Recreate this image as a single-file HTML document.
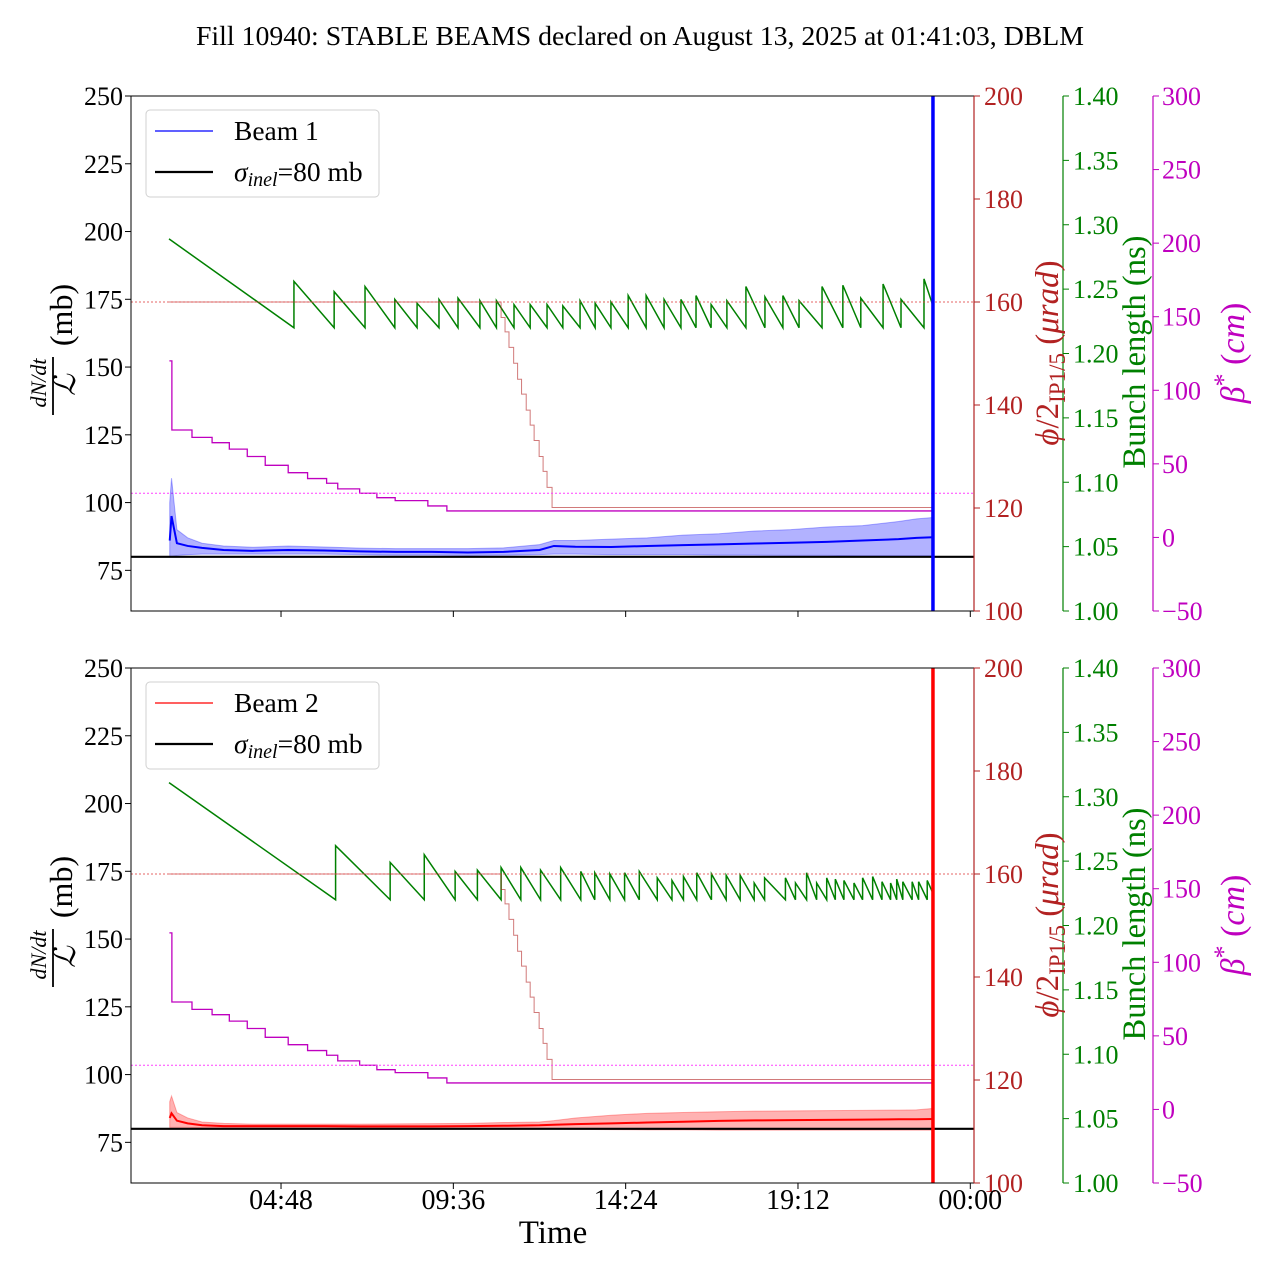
<!DOCTYPE html>
<html><head><meta charset="utf-8"><style>
html,body{margin:0;padding:0;background:#fff;}
svg{display:block;font-family:"Liberation Serif",serif;}
</style></head><body>
<svg id="chart" width="1280" height="1280" viewBox="0 0 1280 1280" xmlns="http://www.w3.org/2000/svg">
<text x="640" y="45" font-size="27.8" text-anchor="middle">Fill 10940: STABLE BEAMS declared on August 13, 2025 at 01:41:03, DBLM</text>
</svg>
<script>
// ---- data (time in hours) ----
const xTickHours = [4.8, 9.6, 14.4, 19.2, 24];
const xTickLabels = ["04:48", "09:36", "14:24", "19:12", "00:00"];
const leftTicks = [75, 100, 125, 150, 175, 200, 225, 250];
const redTicks = [100, 120, 140, 160, 180, 200];
const greenTicks = [1.00, 1.05, 1.10, 1.15, 1.20, 1.25, 1.30, 1.35, 1.40];
const magTicks = [-50, 0, 50, 100, 150, 200, 250, 300];

const crossTimes = [1.68, 10.93, 11.04, 11.15, 11.28, 11.39, 11.50, 11.63, 11.74, 11.85, 11.99, 12.10, 12.21, 12.35];
const crossVals  = [160, 157, 154.2, 151.2, 148.1, 145, 142.1, 139, 136.1, 133.1, 130, 127.1, 124, 120.1];
const betaTimes = [1.69, 1.76, 2.32, 2.88, 3.36, 3.86, 4.36, 5.00, 5.54, 6.07, 6.38, 6.99, 7.47, 7.98, 8.89, 9.42];
const betaVals  = [120, 73, 68, 64.4, 60, 55, 49, 44, 40, 36.8, 33, 30, 27, 25, 21.4, 18];
const endTime = 22.96;

// beam 1 bunch length sawtooth
const bl1Start = [1.68, 1.289];
const bl1ResetTimes = [5.16, 6.28, 7.14, 7.97, 8.59, 9.20, 9.73, 10.34, 10.80, 11.29, 11.74, 12.21, 12.65, 13.13, 13.55, 13.99, 14.47, 14.97, 15.47, 15.94, 16.36, 16.78, 17.22, 17.75, 18.28, 18.78, 19.23, 19.87, 20.45, 20.95, 21.57, 22.07, 22.71];
const bl1Peaks = [1.256, 1.248, 1.252, 1.242, 1.239, 1.242, 1.243, 1.241, 1.241, 1.238, 1.238, 1.238, 1.237, 1.241, 1.239, 1.240, 1.245, 1.245, 1.242, 1.242, 1.245, 1.238, 1.241, 1.252, 1.244, 1.245, 1.241, 1.252, 1.253, 1.243, 1.254, 1.242, 1.258];
const bl1Trough = 1.220;
const bl1End = 1.237;
// beam 2 bunch length sawtooth
const bl2Start = [1.68, 1.311];
const bl2ResetTimes = [6.32, 7.84, 8.79, 9.65, 10.27, 10.93, 11.48, 12.03, 12.59, 13.15, 13.54, 13.96, 14.37, 14.78, 15.28, 15.69, 16.01, 16.38, 16.79, 17.20, 17.59, 17.98, 18.27, 18.85, 19.13, 19.44, 19.72, 20.00, 20.24, 20.48, 20.76, 21.00, 21.28, 21.54, 21.78, 21.95, 22.12, 22.38, 22.56, 22.80];
const bl2Peaks = [1.262, 1.249, 1.255, 1.242, 1.243, 1.245, 1.245, 1.243, 1.245, 1.242, 1.241, 1.240, 1.241, 1.242, 1.237, 1.235, 1.238, 1.241, 1.240, 1.239, 1.239, 1.233, 1.237, 1.237, 1.233, 1.241, 1.233, 1.237, 1.236, 1.235, 1.233, 1.237, 1.238, 1.234, 1.233, 1.236, 1.234, 1.234, 1.234, 1.235];
const bl2Trough = 1.220;
const bl2End = 1.225;

// luminosity cross-section
const lumTimes = [1.7, 1.75, 1.9, 2.2, 2.6, 3.2, 4.0, 5.0, 6.0, 7.0, 8.0, 9.0, 10.0, 11.0, 12.0, 12.4, 13, 14, 15, 16, 17, 18, 19, 20, 21, 22, 22.5, 22.96];
const b1Mean  = [86, 95, 85, 84, 83.3, 82.5, 82.2, 82.5, 82.3, 82, 81.8, 81.8, 81.6, 81.8, 82.5, 84, 83.7, 83.6, 84, 84.3, 84.6, 84.9, 85.2, 85.5, 86, 86.5, 87, 87.2];
const b1Upper = [100, 109, 90, 87, 85, 84, 83.5, 84, 83.6, 83.2, 83, 83, 83, 83.3, 84.5, 86, 86, 86.5, 87, 88, 88.5, 89.5, 90, 91, 91.5, 93, 94, 94.5];
const b1Lower = [80, 80, 80.5, 80.8, 81, 81, 81, 81, 81, 80.8, 80.6, 80.6, 80.5, 80.6, 80.8, 81, 81, 80.8, 80.8, 80.8, 80.6, 80.6, 80.5, 80.5, 80.4, 80.4, 80.4, 80.4];
const b2Mean  = [84, 85.7, 83, 82, 81.3, 81, 81, 81, 81, 80.9, 80.9, 80.9, 81, 81.1, 81.3, 81.5, 81.7, 82, 82.3, 82.6, 82.9, 83.1, 83.2, 83.3, 83.4, 83.5, 83.5, 83.6];
const b2Upper = [90, 92.1, 86, 84, 82.5, 82, 81.7, 81.7, 81.7, 81.7, 81.8, 81.9, 82, 82.3, 82.5, 83, 84, 85, 85.7, 86, 86.3, 86.5, 86.6, 86.7, 86.8, 86.9, 87, 87.5];
const b2Lower = [80.5, 80.5, 80.5, 80.5, 80.4, 80.4, 80.3, 80.3, 80.2, 80.2, 80.1, 80.1, 80, 80, 79.9, 79.9, 79.8, 79.7, 79.6, 79.6, 79.5, 79.5, 79.5, 79.5, 79.5, 79.5, 79.5, 79.5];
const sigmaInel = 80;
const crossRef = 160;
const betaRef = 30;

// ---- drawing ----
const NS = "http://www.w3.org/2000/svg";
const svg = document.getElementById("chart");
const X0 = 131, X1 = 974, H = 515;
const TF = 26;
function xs(t){ return 108.7 + t * 35.9; }
function mk(tag, attrs, parent){
  const e = document.createElementNS(NS, tag);
  for (const k in attrs) e.setAttribute(k, attrs[k]);
  (parent || svg).appendChild(e);
  return e;
}
function stepPath(times, vals, tEnd, ys){
  let d = "M" + xs(times[0]) + "," + ys(vals[0]);
  for (let i = 1; i < times.length; i++){
    d += "L" + xs(times[i]) + "," + ys(vals[i-1]) + "L" + xs(times[i]) + "," + ys(vals[i]);
  }
  d += "L" + xs(tEnd) + "," + ys(vals[vals.length-1]);
  return d;
}
function sawPath(start, resets, peaks, trough, endV, ys){
  let d = "M" + xs(start[0]) + "," + ys(start[1]);
  for (let i = 0; i < resets.length; i++){
    d += "L" + xs(resets[i]) + "," + ys(trough) + "L" + xs(resets[i]) + "," + ys(peaks[i]);
  }
  d += "L" + xs(endTime) + "," + ys(endV);
  return d;
}
function linePath(times, vals, ys){
  return times.map((t,i)=>(i?"L":"M")+xs(t)+","+ys(vals[i])).join("");
}
function bandPath(times, up, lo, ys){
  let d = linePath(times, up, ys);
  for (let i = times.length-1; i >= 0; i--) d += "L" + xs(times[i]) + "," + ys(lo[i]);
  return d + "Z";
}

function panel(idx, top, cfg){
  const g = mk("g", {});
  
  
  const yL = v => top + (250 - v) / 190 * H;
  const yR = v => top + (200 - v) / 100 * H;
  const yG = v => top + (1.40 - v) / 0.40 * H;
  const yM = v => top + (300 - v) / 350 * H;
  const cp = mk("clipPath", {id: "clip" + idx}, g);
  mk("rect", {x: X0, y: top, width: X1 - X0, height: H}, cp);
  const pg = mk("g", {"clip-path": "url(#clip" + idx + ")"}, g);

  let e;
  e = mk("path", {d: sawPath(cfg.blStart, cfg.blResets, cfg.blPeaks, cfg.blTrough, cfg.blEnd, yG), fill: "none", stroke: "#008000", "stroke-width": 1.5}, pg);
  
  
  e = mk("path", {d: stepPath(crossTimes, crossVals, endTime, yR), fill: "none", stroke: "#b22222", "stroke-opacity": 0.6, "stroke-width": 1}, pg);
  
  
  e = mk("path", {d: stepPath(betaTimes, betaVals, endTime, yM), fill: "none", stroke: "#bf00bf", "stroke-width": 1.3}, pg);
  
  
  e = mk("line", {x1: X0, x2: X1, y1: yR(crossRef), y2: yR(crossRef), stroke: "#e04040", "stroke-width": 1, "stroke-dasharray": "2,2", "stroke-opacity": 0.8}, pg);
  
  
  e = mk("line", {x1: X0, x2: X1, y1: yM(betaRef), y2: yM(betaRef), stroke: "#ff40ff", "stroke-width": 1, "stroke-dasharray": "2,2"}, pg);
  
  
  e = mk("path", {d: bandPath(lumTimes, cfg.up, cfg.lo, yL), fill: cfg.col, "fill-opacity": 0.3, stroke: cfg.col, "stroke-opacity": 0.3, "stroke-width": 1}, pg);
  
  
  e = mk("path", {d: linePath(lumTimes, cfg.mean, yL), fill: "none", stroke: cfg.col, "stroke-width": 2}, pg);
  
  
  e = mk("line", {x1: X0, x2: X1, y1: yL(sigmaInel), y2: yL(sigmaInel), stroke: "#000", "stroke-width": 2.2}, pg);
  
  
  e = mk("line", {x1: xs(endTime), x2: xs(endTime), y1: top, y2: top + H, stroke: cfg.col, "stroke-width": 3.5}, pg);
  
  

  // frame
  mk("rect", {x: X0, y: top, width: X1 - X0, height: H, fill: "none", stroke: "#000", "stroke-width": 1}, g);
  mk("line", {x1: X1, x2: X1, y1: top, y2: top + H, stroke: "#b22222", "stroke-width": 1.2}, g);
  mk("line", {x1: 1063, x2: 1063, y1: top, y2: top + H, stroke: "#008000", "stroke-width": 1.2}, g);
  mk("line", {x1: 1153, x2: 1153, y1: top, y2: top + H, stroke: "#bf00bf", "stroke-width": 1.2}, g);

  leftTicks.forEach(v => {
    mk("line", {x1: X0 - 6, x2: X0, y1: yL(v), y2: yL(v), stroke: "#000"}, g);
    const t = mk("text", {x: X0 - 8, y: yL(v) + 9, "font-size": TF, "text-anchor": "end"}, g);
    t.textContent = v;
    
    
  });
  redTicks.forEach(v => {
    mk("line", {x1: X1, x2: X1 + 6, y1: yR(v), y2: yR(v), stroke: "#b22222"}, g);
    const t = mk("text", {x: X1 + 10, y: yR(v) + 9, "font-size": TF, fill: "#b22222"}, g);
    t.textContent = v;
    
    
  });
  greenTicks.forEach(v => {
    mk("line", {x1: 1063, x2: 1069, y1: yG(v), y2: yG(v), stroke: "#008000"}, g);
    const t = mk("text", {x: 1073, y: yG(v) + 9, "font-size": TF, fill: "#008000"}, g);
    t.textContent = v.toFixed(2);
    
    
  });
  magTicks.forEach(v => {
    mk("line", {x1: 1153, x2: 1159, y1: yM(v), y2: yM(v), stroke: "#bf00bf"}, g);
    const t = mk("text", {x: 1162, y: yM(v) + 9, "font-size": TF, fill: "#bf00bf"}, g);
    t.textContent = v < 0 ? "\u2212" + (-v) : v;
    
    
  });
  xTickHours.forEach(h => {
    mk("line", {x1: xs(h), x2: xs(h), y1: top + H, y2: top + H + 6, stroke: "#000"}, g);
  });

  // left label
  const yc = top + 257;
  let t;
  t = mk("text", {transform: "translate(72," + (yc - 38) + ") rotate(-90)", "font-size": 32, "text-anchor": "middle"}, g);
  t.textContent = "(mb)";
  
  
  t = mk("text", {transform: "translate(46," + (yc + 30) + ") rotate(-90)", "font-size": 22, "font-style": "italic", "text-anchor": "middle"}, g);
  t.textContent = "dN/dt";
  
  
  mk("line", {x1: 53, x2: 53, y1: yc + 4, y2: yc + 62, stroke: "#000", "stroke-width": 1.8}, g);
  t = mk("text", {transform: "translate(75," + (yc + 32) + ") rotate(-90)", "font-size": 30, "font-style": "italic", "text-anchor": "middle"}, g);
  t.textContent = "\u2112";
  
  

  t = mk("text", {transform: "translate(1058," + (yc) + ") rotate(-90)", "font-size": 33, fill: "#b22222", "text-anchor": "middle"}, g);
  t.innerHTML = '<tspan font-style="italic">ϕ</tspan>/2<tspan font-size="23" dy="7">IP1/5</tspan><tspan dy="-7"> (</tspan><tspan font-style="italic">μrad</tspan>)';
  
  
  t = mk("text", {transform: "translate(1145," + (yc - 1) + ") rotate(-90)", "font-size": 32.5, fill: "#008000", "text-anchor": "middle"}, g);
  t.textContent = "Bunch length (ns)";
  
  
  t = mk("text", {transform: "translate(1244," + (yc) + ") rotate(-90)", "font-size": 34, fill: "#bf00bf", "text-anchor": "middle"}, g);
  t.innerHTML = '<tspan font-style="italic">β</tspan><tspan font-size="26" dy="-12">*</tspan><tspan dy="12"> (</tspan><tspan font-style="italic">cm</tspan>)';
  
  

  // legend
  const lg = mk("g", {}, g);
  
  
  mk("rect", {x: 146, y: top + 14, width: 233, height: 87, rx: 4, fill: "#fff", "fill-opacity": 0.85, stroke: "#d0d0d0"}, lg);
  mk("line", {x1: 155, x2: 213, y1: top + 35, y2: top + 35, stroke: cfg.col, "stroke-width": 1.2}, lg);
  t = mk("text", {x: 234, y: top + 44, "font-size": 27.5}, lg);
  t.textContent = cfg.name;
  
  
  mk("line", {x1: 155, x2: 213, y1: top + 76, y2: top + 76, stroke: "#000", "stroke-width": 2.2}, lg);
  t = mk("text", {x: 234, y: top + 85, "font-size": 27.5}, lg);
  t.innerHTML = '<tspan font-style="italic">σ</tspan><tspan font-style="italic" font-size="20" dy="5">inel</tspan><tspan dy="-5">=80 mb</tspan>';
  
  
}

panel(1, 96, {name: "Beam 1", col: "#0000ff", mean: b1Mean, up: b1Upper, lo: b1Lower,
  blStart: bl1Start, blResets: bl1ResetTimes, blPeaks: bl1Peaks, blTrough: bl1Trough, blEnd: bl1End});
panel(2, 668, {name: "Beam 2", col: "#ff0000", mean: b2Mean, up: b2Upper, lo: b2Lower,
  blStart: bl2Start, blResets: bl2ResetTimes, blPeaks: bl2Peaks, blTrough: bl2Trough, blEnd: bl2End});

xTickHours.forEach((h, i) => {
  const t = mk("text", {x: xs(h), y: 1209, "font-size": 28, "text-anchor": "middle"});
  t.textContent = xTickLabels[i];
  
  
});
const xt = mk("text", {x: 553, y: 1243, "font-size": 33, "text-anchor": "middle"});
xt.textContent = "Time";


</script>
</body></html>
